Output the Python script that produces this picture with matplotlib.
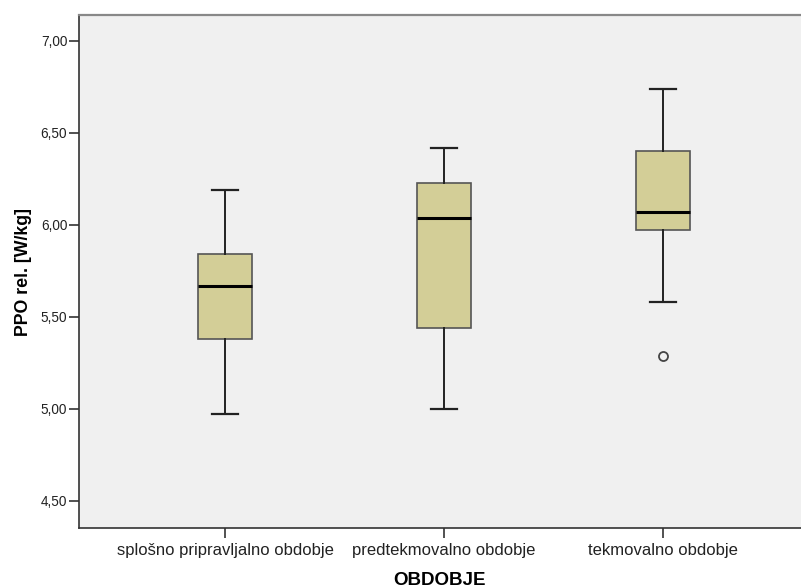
import matplotlib
matplotlib.use('Agg')
import matplotlib.pyplot as plt
from matplotlib.ticker import FuncFormatter

plt.rcParams['font.family'] = ['Liberation Sans', 'DejaVu Sans']

# values (PPO rel. [W/kg])
categories = ['splošno pripravljalno obdobje', 'predtekmovalno obdobje', 'tekmovalno obdobje']
whisker_low = [4.97, 5.00, 5.58]
q1 = [5.38, 5.44, 5.97]
median = [5.67, 6.04, 6.07]
q3 = [5.84, 6.23, 6.40]
whisker_high = [6.19, 6.42, 6.74]
outliers = [[], [], [5.29]]

yticks = [4.50, 5.00, 5.50, 6.00, 6.50, 7.00]

stats = []
for i, name in enumerate(categories):
    stats.append({'label': name, 'whislo': whisker_low[i], 'q1': q1[i], 'med': median[i],
                  'q3': q3[i], 'whishi': whisker_high[i], 'fliers': outliers[i]})

fig = plt.figure(figsize=(8.01, 5.88), dpi=100)
ax = fig.add_axes([79 / 801, 60 / 588, 722 / 801, 513 / 588])
ax.set_facecolor('#F0F0F0')

ax.bxp(stats, positions=range(len(categories)), widths=0.247, patch_artist=True,
       showfliers=True,
       boxprops=dict(facecolor='#D3CE97', edgecolor='#555555', linewidth=1.2),
       medianprops=dict(color='black', linewidth=2.2),
       whiskerprops=dict(color='#222222', linewidth=1.4),
       capprops=dict(color='#222222', linewidth=1.6),
       capwidths=0.115,
       flierprops=dict(marker='o', markersize=6.5, markerfacecolor='none',
                       markeredgecolor='#444444', markeredgewidth=1.3))

ax.set_xlim(-0.667, 2.63)
ax.set_ylim(4.353, 7.141)
ax.set_yticks(yticks)
ax.yaxis.set_major_formatter(FuncFormatter(lambda v, p: f'{v:.2f}'.replace('.', ',')))
ax.set_xticks(range(len(categories)))
ax.set_xticklabels(categories)

ax.tick_params(axis='y', length=7, width=1.2, color='#333333', pad=1.5, labelsize=9.8, labelcolor='#222222')
ax.tick_params(axis='x', length=7, width=1.2, color='#333333', pad=4, labelsize=12, labelcolor='#222222')

ax.spines['right'].set_visible(False)
ax.spines['top'].set_color('#888888')
ax.spines['top'].set_linewidth(1.6)
ax.spines['left'].set_color('#333333')
ax.spines['left'].set_linewidth(1.2)
ax.spines['bottom'].set_color('#333333')
ax.spines['bottom'].set_linewidth(1.2)

ax.set_ylabel('PPO rel. [W/kg]', fontsize=12.8, fontweight='bold', labelpad=6)
ax.set_xlabel('OBDOBJE', fontsize=13.5, fontweight='bold', labelpad=10)

fig.savefig('out.png', dpi=100)
